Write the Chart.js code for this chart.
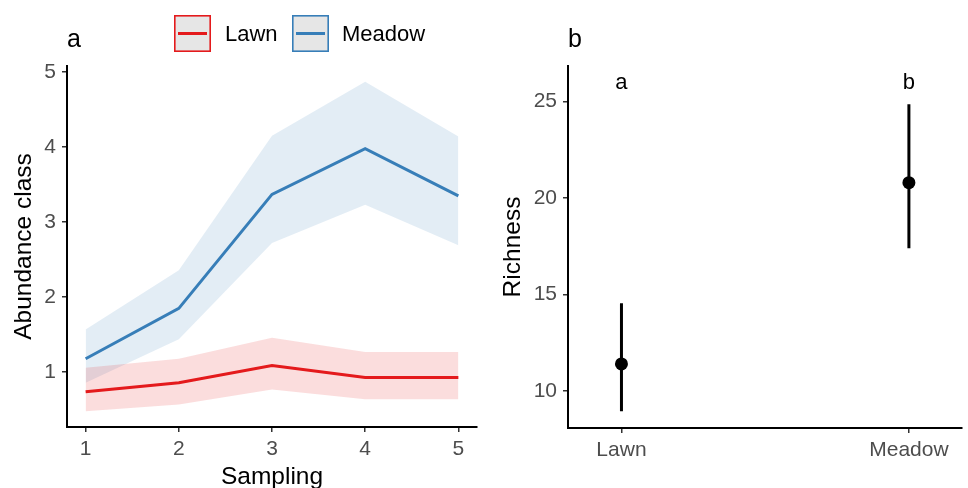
<!DOCTYPE html>
<html>
<head>
<meta charset="utf-8">
<script src="https://cdn.jsdelivr.net/npm/chart.js@4"></script>
<style>
  html, body { margin: 0; padding: 0; background: #ffffff; overflow: hidden; }
  #wrap { position: relative; width: 968px; height: 488px; }
  canvas { position: absolute; top: 0; }
  #cA { left: 0; }
  #cB { left: 490px; }
</style>
</head>
<body>
<div id="wrap">
  <canvas id="cA" width="490" height="488"></canvas>
  <canvas id="cB" width="478" height="488"></canvas>
</div>
<script>
// ---------- Panel a data ----------
const samplings   = [1, 2, 3, 4, 5];
const yTicksA     = [1, 2, 3, 4, 5];
const seriesNames = ['Lawn', 'Meadow'];
const lawnMean    = [0.74, 0.86, 1.09, 0.93, 0.93];
const lawnLower   = [0.48, 0.57, 0.77, 0.64, 0.64];
const lawnUpper   = [1.06, 1.18, 1.46, 1.27, 1.27];
const meadowMean  = [1.18, 1.85, 3.37, 3.98, 3.35];
const meadowLower = [0.86, 1.44, 2.72, 3.23, 2.69];
const meadowUpper = [1.57, 2.36, 4.15, 4.87, 4.14];

// ---------- Panel b data ----------
const groups        = ['Lawn', 'Meadow'];
const richMean      = [11.4, 20.8];
const richLower     = [8.95, 17.4];
const richUpper     = [14.55, 24.87];
const groupLetters  = ['a', 'b'];
const letterLevel   = 26;
const yTicksB       = [10, 15, 20, 25];

const FONT = "'Liberation Sans', Arial, sans-serif";
const RED = '#E41A1C', BLUE = '#377EB8';
const RED_FILL = 'rgba(228,26,28,0.15)', BLUE_FILL = 'rgba(55,126,184,0.14)';
const TICK_SIZE = 21, TITLE_SIZE = 24.5;

const pts = (xs, ys) => xs.map((x, i) => ({ x: x, y: ys[i] }));

const axisCommon = {
  grid: { drawOnChartArea: false, drawTicks: true, tickLength: 5, color: '#333333', lineWidth: 1.5 },
  border: { display: true, color: '#000000', width: 2 },
};

// panel tag plugin
const tagPlugin = (tag) => ({
  id: 'tag' + tag,
  afterDraw(chart) {
    const ctx = chart.ctx;
    ctx.save();
    ctx.fillStyle = '#000';
    ctx.font = '25px ' + FONT;
    ctx.textAlign = 'left';
    ctx.textBaseline = 'alphabetic';
    ctx.fillText(tag, chart.chartArea.left, 47);
    ctx.restore();
  }
});

// legend plugin (panel a)
const legendPlugin = {
  id: 'customLegend',
  afterDraw(chart) {
    const ctx = chart.ctx;
    const colors = [RED, BLUE];
    const boxX = [174, 292];
    const textX = [225, 342];
    ctx.save();
    seriesNames.forEach((name, i) => {
      const x = boxX[i], y = 15, w = 37, h = 37;
      ctx.fillStyle = '#e6e6e6';
      ctx.fillRect(x, y, w, h);
      ctx.strokeStyle = colors[i];
      ctx.lineWidth = 1.6;
      ctx.strokeRect(x + 0.8, y + 0.8, w - 1.6, h - 1.6);
      ctx.beginPath();
      ctx.lineWidth = 3;
      ctx.moveTo(x + 4, y + h / 2);
      ctx.lineTo(x + w - 4, y + h / 2);
      ctx.stroke();
      ctx.fillStyle = '#000';
      ctx.font = '22px ' + FONT;
      ctx.textBaseline = 'middle';
      ctx.textAlign = 'left';
      ctx.fillText(name, textX[i], y + h / 2 + 1);
    });
    ctx.restore();
  }
};

new Chart(document.getElementById('cA'), {
  type: 'line',
  data: {
    datasets: [
      { label: 'MeadowUpper', data: pts(samplings, meadowUpper), fill: '+1', backgroundColor: BLUE_FILL, borderWidth: 0, pointRadius: 0, order: 3 },
      { label: 'MeadowLower', data: pts(samplings, meadowLower), fill: false, borderWidth: 0, pointRadius: 0, order: 3 },
      { label: 'LawnUpper', data: pts(samplings, lawnUpper), fill: '+1', backgroundColor: RED_FILL, borderWidth: 0, pointRadius: 0, order: 2 },
      { label: 'LawnLower', data: pts(samplings, lawnLower), fill: false, borderWidth: 0, pointRadius: 0, order: 2 },
      { label: 'Lawn', data: pts(samplings, lawnMean), borderColor: RED, borderWidth: 3, pointRadius: 0, fill: false, tension: 0, order: 1 },
      { label: 'Meadow', data: pts(samplings, meadowMean), borderColor: BLUE, borderWidth: 3, pointRadius: 0, fill: false, tension: 0, order: 0 },
    ]
  },
  options: {
    responsive: false,
    animation: false,
    layout: { padding: { top: 66, right: 13, left: 0, bottom: 0 } },
    plugins: { legend: { display: false }, tooltip: { enabled: false } },
    scales: {
      x: {
        type: 'linear', min: 0.8, max: 5.2,
        ...axisCommon,
        afterFit(s) { s.height = 61; },
        afterBuildTicks(s) { s.ticks = samplings.map(v => ({ value: v })); },
        ticks: { color: '#4d4d4d', font: { family: FONT, size: TICK_SIZE }, padding: 5 },
        title: { display: true, text: 'Sampling', color: '#000', font: { family: FONT, size: TITLE_SIZE }, padding: { top: 0, bottom: -4 } }
      },
      y: {
        type: 'linear', min: 0.27, max: 5.08,
        ...axisCommon,
        afterFit(s) { s.width = 67; },
        afterBuildTicks(s) { s.ticks = yTicksA.map(v => ({ value: v })); },
        ticks: { color: '#4d4d4d', font: { family: FONT, size: TICK_SIZE }, padding: 6 },
        title: { display: true, text: 'Abundance class', color: '#000', font: { family: FONT, size: TITLE_SIZE }, padding: { top: 10, bottom: 0 } }
      }
    }
  },
  plugins: [legendPlugin, tagPlugin('a')]
});

// letters plugin for panel b
const lettersPlugin = {
  id: 'letters',
  afterDatasetsDraw(chart) {
    const ctx = chart.ctx, xs = chart.scales.x, ys = chart.scales.y;
    ctx.save();
    ctx.fillStyle = '#000';
    ctx.font = '22px ' + FONT;
    ctx.textAlign = 'center';
    ctx.textBaseline = 'middle';
    groupLetters.forEach((l, i) => {
      ctx.fillText(l, xs.getPixelForValue(i + 1), ys.getPixelForValue(letterLevel) + 1);
    });
    ctx.restore();
  }
};

const errDatasets = groups.map((g, i) => ({
  type: 'line',
  label: g + ' range',
  data: [{ x: i + 1, y: richLower[i] }, { x: i + 1, y: richUpper[i] }],
  borderColor: '#000', borderWidth: 3, pointRadius: 0, fill: false, order: 1
}));

new Chart(document.getElementById('cB'), {
  type: 'scatter',
  data: {
    datasets: [
      ...errDatasets,
      { type: 'scatter', label: 'Richness', data: groups.map((g, i) => ({ x: i + 1, y: richMean[i] })),
        backgroundColor: '#000', borderColor: '#000', pointRadius: 6.5, borderWidth: 0, order: 0 }
    ]
  },
  options: {
    responsive: false,
    animation: false,
    layout: { padding: { top: 66, right: 0, left: 0, bottom: 0 } },
    plugins: { legend: { display: false }, tooltip: { enabled: false } },
    scales: {
      x: {
        type: 'linear', min: 0.814, max: 2.183,
        ...axisCommon,
        afterFit(s) { s.height = 60; },
        afterBuildTicks(s) { s.ticks = groups.map((g, i) => ({ value: i + 1 })); },
        ticks: { color: '#4d4d4d', font: { family: FONT, size: TICK_SIZE }, padding: 5,
                 callback: (v) => groups[v - 1] },
      },
      y: {
        type: 'linear', min: 8.08, max: 26.85,
        ...axisCommon,
        afterFit(s) { s.width = 78; },
        afterBuildTicks(s) { s.ticks = yTicksB.map(v => ({ value: v })); },
        ticks: { color: '#4d4d4d', font: { family: FONT, size: TICK_SIZE }, padding: 6 },
        title: { display: true, text: 'Richness', color: '#000', font: { family: FONT, size: TITLE_SIZE }, padding: { top: 9, bottom: 0 } }
      }
    }
  },
  plugins: [lettersPlugin, tagPlugin('b')]
});
</script>
</body>
</html>
